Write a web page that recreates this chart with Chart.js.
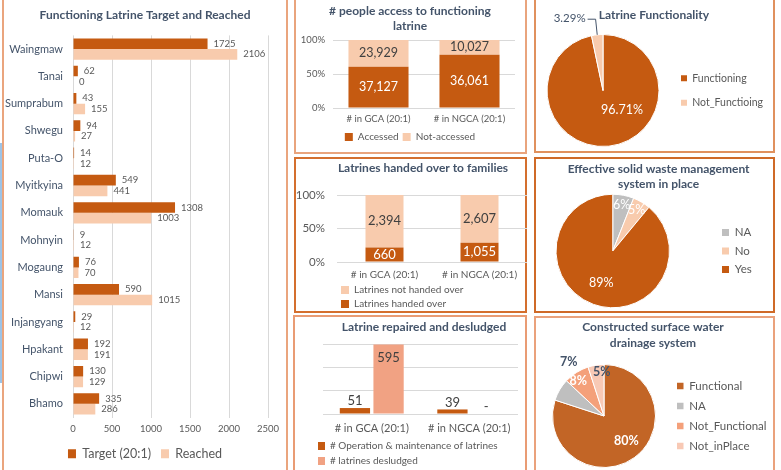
<!DOCTYPE html>
<html>
<head>
<meta charset="utf-8">
<title>Latrine dashboard</title>
<script src="https://cdn.jsdelivr.net/npm/chart.js@4.4.1/dist/chart.umd.min.js"></script>
<style>
html, body { margin:0; padding:0; background:#ffffff; overflow:hidden; }
#wrap { position:relative; width:781px; height:470px; overflow:hidden; background:#fff; }
.panel { position:absolute; box-sizing:border-box; border-style:solid; border-width:2px; }
#wrap canvas { position:absolute; }
</style>
</head>
<body>
<div id="wrap">
  <div class="panel" style="left:2px;top:-6px;width:286px;height:490px;border-color:#EAA57E"></div>
  <div style="position:absolute;left:0;top:143px;width:2px;height:240px;background:#9DC3E6"></div>
  <div class="panel" style="left:294px;top:-6px;width:233px;height:160px;border-color:#E9A47D"></div>
  <div class="panel" style="left:294px;top:157px;width:233px;height:156px;border-color:#D46F2E"></div>
  <div class="panel" style="left:293px;top:315px;width:234px;height:170px;border-color:#E99C74"></div>
  <div class="panel" style="left:534px;top:-6px;width:241px;height:159px;border-color:#E0915E"></div>
  <div class="panel" style="left:534px;top:157px;width:241px;height:156px;border-color:#CF6A28"></div>
  <div class="panel" style="left:534px;top:316px;width:241px;height:170px;border-color:#EAA27C"></div>
</div>
<script>
// ---------------- data ----------------
const districts = ['Waingmaw','Tanai','Sumprabum','Shwegu','Puta-O','Myitkyina','Momauk','Mohnyin','Mogaung','Mansi','Injangyang','Hpakant','Chipwi','Bhamo'];
const targetValues  = [1725, 62, 43, 94, 14, 549, 1308, 9, 76, 590, 29, 192, 130, 335];
const reachedValues = [2106, 0, 155, 27, 12, 441, 1003, 12, 70, 1015, 12, 191, 129, 286];
const reachedTicks = [0, 500, 1000, 1500, 2000, 2500];

const areaCategories = ['# in GCA (20:1)', '# in NGCA (20:1)'];
const peopleAccessed = [37127, 36061];
const peopleNotAccessed = [23929, 10027];
const percentTicks = [0, 50, 100];

const latrinesHanded = [660, 1055];
const latrinesNotHanded = [2394, 2607];

const latrinesMaintained = [51, 39];
const latrinesDesludged = [595, 0];
const repairTicks = [0, 200, 400, 600];

const functionalityLabels = ['Functioning', 'Not_Functioing'];
const functionalityValues = [96.71, 3.29];

const wasteLabels = ['NA', 'No', 'Yes'];
const wasteValues = [6, 5, 89];

const drainageLabels = ['Functional', 'NA', 'Not_Functional', 'Not_inPlace'];
const drainageValues = [80, 7, 8, 5];

// ---------------- style ----------------
const FONT = 'Lato';
const TITLE_COLOR = '#44546A';
const TEXT_COLOR = '#595959';
const DARK_LABEL = '#404040';
const ORANGE = '#C55A11';
const PEACH = '#F8CBAD';
const SALMON = '#F1A283';
const GREY = '#BFBFBF';
const GRID = '#D9D9D9';

Chart.defaults.font.family = FONT;
Chart.defaults.color = TEXT_COLOR;
Chart.defaults.animation = false;
Chart.defaults.responsive = false;
Chart.defaults.maintainAspectRatio = false;
Chart.defaults.plugins.tooltip.enabled = false;
Chart.defaults.events = [];

const measureCtx = document.createElement('canvas').getContext('2d');
function textW(t, size) { measureCtx.font = size + 'px ' + FONT; return measureCtx.measureText(t).width; }
function fmtNum(n) { return String(n).replace(/\B(?=(\d{3})+(?!\d))/g, ','); }

function makeCanvas(left, top, width, height) {
  const c = document.createElement('canvas');
  c.width = width; c.height = height;
  c.style.left = left + 'px'; c.style.top = top + 'px';
  c.style.width = width + 'px'; c.style.height = height + 'px';
  document.getElementById('wrap').appendChild(c);
  return c;
}
function titleOpts(lines, size, lineH, firstCenterRel, areaTopRel) {
  const padTop = firstCenterRel - lineH / 2;
  const padBottom = areaTopRel - padTop - lines.length * lineH;
  return { display: true, text: lines, color: TITLE_COLOR,
    font: { family: FONT, size: size, weight: 'bold', lineHeight: lineH + 'px' },
    padding: { top: padTop, bottom: padBottom } };
}
function padAxis(position, size) {
  return { type: 'linear', axis: (position === 'left' || position === 'right') ? 'y' : 'x', position: position,
    display: true, min: 0, max: 1, grid: { display: false, drawTicks: false }, border: { display: false },
    ticks: { display: false },
    afterFit: s => { if (s.isHorizontal()) { s.height = size; } else { s.width = size; } } };
}
function barLabels(fn) {
  return { id: 'barLabels', afterDatasetsDraw(chart) {
    const ctx = chart.ctx;
    chart.data.datasets.forEach((ds, di) => {
      chart.getDatasetMeta(di).data.forEach((bar, i) => {
        const s = fn(di, i, bar);
        if (!s) return;
        ctx.save();
        ctx.font = s.font; ctx.fillStyle = s.color;
        ctx.textAlign = s.align || 'center'; ctx.textBaseline = 'middle';
        ctx.fillText(s.text, s.x, s.y);
        ctx.restore();
      });
    });
  } };
}
function pieLabels(specs, fmt) {
  return { id: 'pieLabels', afterDatasetsDraw(chart) {
    const ctx = chart.ctx;
    const vals = chart.data.datasets[0].data;
    chart.getDatasetMeta(0).data.forEach((arc, i) => {
      const s = specs[i];
      const p = arc.getProps(['x', 'y', 'startAngle', 'endAngle', 'outerRadius'], true);
      const mid = (p.startAngle + p.endAngle) / 2;
      const a = s.angle !== undefined ? (s.angle - 90) * Math.PI / 180 : mid;
      const text = fmt(vals[i]);
      ctx.save();
      ctx.font = (s.weight || 'normal') + ' ' + s.size + 'px ' + FONT;
      ctx.fillStyle = s.color; ctx.textBaseline = 'middle'; ctx.textAlign = 'center';
      if (s.leader) {
        const ex = p.x + Math.cos(mid) * p.outerRadius, ey = p.y + Math.sin(mid) * p.outerRadius;
        const kx = p.x + Math.cos(mid) * p.outerRadius * s.r, ky = p.y + Math.sin(mid) * p.outerRadius * s.r;
        ctx.strokeStyle = s.color; ctx.lineWidth = 1;
        ctx.beginPath(); ctx.moveTo(ex, ey); ctx.lineTo(kx, ky); ctx.lineTo(kx - s.leader, ky); ctx.stroke();
        ctx.textAlign = 'right';
        ctx.fillText(text, kx - s.leader - 2, ky - 1);
      } else {
        const r = p.outerRadius * s.r;
        ctx.fillText(text, p.x + Math.cos(a) * r, p.y + Math.sin(a) * r);
      }
      ctx.restore();
    });
  } };
}
// horizontal placement of a pie + right legend + centred title inside one canvas
function pieLayout(labels, o) {
  const tw = Math.max.apply(null, labels.map(t => textW(t, o.size)));
  const legendW = o.pad + o.box + o.size / 2 + tw + 10;
  const legendLeft = o.markerX - o.pad;
  const regionRight = legendLeft + legendW;
  let regionLeft = 2 * o.titleX - regionRight;
  let axL = 0, axR = 0;
  const symLeft = 2 * o.cx - legendLeft;        // area left when the area touches the legend
  if (symLeft >= regionLeft) {
    axL = symLeft - regionLeft;
  } else {
    regionLeft = Math.min(regionLeft, o.cx - o.areaH / 2);
    axR = legendLeft - (2 * o.cx - regionLeft);
  }
  const canvasLeft = Math.floor(Math.min(regionLeft, o.panelLeft));
  const canvasRight = Math.ceil(Math.max(regionRight, o.panelRight));
  return { canvasLeft: canvasLeft, width: canvasRight - canvasLeft,
    padL: regionLeft - canvasLeft, padR: canvasRight - regionRight, axL: axL, axR: axR };
}
function pieLegendLabels(chart) {
  return Chart.overrides.pie.plugins.legend.labels.generateLabels(chart).map(l => Object.assign({}, l, { lineWidth: 0 }));
}

// ---------------- chart 1: functioning latrine target and reached ----------------
new Chart(makeCanvas(2, 0, 286, 470), {
  type: 'bar',
  data: { labels: districts, datasets: [
    { label: 'Target (20:1)', data: targetValues, backgroundColor: ORANGE, xAxisID: 'x', yAxisID: 'y' },
    { label: 'Reached', data: reachedValues, backgroundColor: PEACH, xAxisID: 'x', yAxisID: 'y' }
  ] },
  options: {
    indexAxis: 'y',
    datasets: { bar: { categoryPercentage: 0.78, barPercentage: 1 } },
    scales: {
      y: { type: 'category', position: 'left', grid: { display: false, drawTicks: false }, border: { display: false },
        ticks: { color: TITLE_COLOR, font: { size: 11 }, padding: 10, autoSkip: false },
        afterFit: s => { s.width = 71; } },
      x: { type: 'linear', position: 'bottom', min: 0, max: 2500,
        grid: { color: GRID, drawTicks: false }, border: { display: false },
        ticks: { font: { size: 9.5 }, padding: 6, callback: v => String(v) },
        afterBuildTicks: s => { s.ticks = reachedTicks.map(v => ({ value: v })); },
        afterFit: s => { s.height = 20; } },
      padR: padAxis('right', 20)
    },
    plugins: {
      title: titleOpts(['Functioning Latrine Target and Reached'], 12, 15, 15, 35.4),
      legend: { position: 'bottom', labels: { boxWidth: 8, boxHeight: 9, padding: 10, font: { size: 12.5 }, color: TEXT_COLOR } }
    }
  },
  plugins: [barLabels((di, i, bar) => ({
    text: String(di === 0 ? targetValues[i] : reachedValues[i]),
    x: bar.x + 6, y: bar.y, align: 'left', font: '9.5px ' + FONT, color: TEXT_COLOR
  }))]
});

// ---------------- chart 2: people access ----------------
new Chart(makeCanvas(296, 2, 228, 150), {
  type: 'bar',
  data: { labels: areaCategories, datasets: [
    { label: 'Accessed', data: peopleAccessed.map((v, i) => 100 * v / (v + peopleNotAccessed[i])), backgroundColor: ORANGE, yAxisID: 'y', xAxisID: 'x' },
    { label: 'Not-accessed', data: peopleNotAccessed.map((v, i) => 100 * v / (v + peopleAccessed[i])), backgroundColor: PEACH, yAxisID: 'y', xAxisID: 'x' }
  ] },
  options: {
    datasets: { bar: { categoryPercentage: 0.66, barPercentage: 1 } },
    scales: {
      y: { type: 'linear', position: 'left', stacked: true, min: 0, max: 100,
        grid: { color: GRID, drawTicks: false }, border: { display: false },
        ticks: { font: { size: 9.5 }, padding: 8, callback: v => v + '%' },
        afterBuildTicks: s => { s.ticks = percentTicks.map(v => ({ value: v })); },
        afterFit: s => { s.width = 37; } },
      x: { type: 'category', stacked: true, grid: { display: false, drawTicks: false }, border: { display: false },
        ticks: { font: { size: 9.5 }, padding: 5 }, afterFit: s => { s.height = 20; } },
      padR: padAxis('right', 9)
    },
    plugins: {
      title: titleOpts(['# people access to functioning', 'latrine'], 12, 15, 9, 38),
      legend: { position: 'bottom', labels: { boxWidth: 8, boxHeight: 8, padding: 4, font: { size: 10 }, color: TEXT_COLOR } }
    }
  },
  plugins: [barLabels((di, i, bar) => ({
    text: fmtNum(di === 0 ? peopleAccessed[i] : peopleNotAccessed[i]),
    x: bar.x, y: (bar.y + bar.base) / 2, font: '12.5px ' + FONT, color: di === 0 ? '#FFFFFF' : DARK_LABEL
  }))]
});

// ---------------- chart 3: latrines handed over ----------------
new Chart(makeCanvas(296, 159, 254, 160), {
  type: 'bar',
  data: { labels: areaCategories, datasets: [
    { label: 'Latrines handed over', data: latrinesHanded.map((v, i) => 100 * v / (v + latrinesNotHanded[i])), backgroundColor: ORANGE, yAxisID: 'y', xAxisID: 'x' },
    { label: 'Latrines not handed over', data: latrinesNotHanded.map((v, i) => 100 * v / (v + latrinesHanded[i])), backgroundColor: PEACH, yAxisID: 'y', xAxisID: 'x' }
  ] },
  options: {
    datasets: { bar: { categoryPercentage: 0.4, barPercentage: 1 } },
    scales: {
      y: { type: 'linear', position: 'left', stacked: true, min: 0, max: 100,
        grid: { color: GRID, drawTicks: false }, border: { display: false },
        ticks: { font: { size: 11.5 }, padding: 12, callback: v => v + '%' },
        afterBuildTicks: s => { s.ticks = percentTicks.map(v => ({ value: v })); },
        afterFit: s => { s.width = 41; } },
      x: { type: 'category', stacked: true, grid: { display: false, drawTicks: false }, border: { display: false },
        ticks: { font: { size: 10 }, padding: 7 }, afterFit: s => { s.height = 19; } },
      padR: padAxis('right', 23)
    },
    plugins: {
      title: titleOpts(['Latrines handed over to families'], 12, 15, 9, 36),
      legend: { position: 'bottom', fullSize: false, align: 'start', reverse: true,
        labels: { boxWidth: 8, boxHeight: 8, padding: 4, font: { size: 10 }, color: TEXT_COLOR } }
    }
  },
  plugins: [barLabels((di, i, bar) => ({
    text: fmtNum(di === 0 ? latrinesHanded[i] : latrinesNotHanded[i]),
    x: bar.x, y: (bar.y + bar.base) / 2, font: '13px ' + FONT, color: di === 0 ? '#FFFFFF' : DARK_LABEL
  }))]
});

// ---------------- chart 4: repaired and desludged ----------------
new Chart(makeCanvas(296, 317, 239, 159), {
  type: 'bar',
  data: { labels: areaCategories, datasets: [
    { label: '# Operation & maintenance of latrines', data: latrinesMaintained, backgroundColor: ORANGE, yAxisID: 'y', xAxisID: 'x' },
    { label: '# latrines desludged', data: latrinesDesludged, backgroundColor: SALMON, yAxisID: 'y', xAxisID: 'x' }
  ] },
  options: {
    layout: { padding: { left: 17 } },
    datasets: { bar: { categoryPercentage: 0.69, barPercentage: 0.9 } },
    scales: {
      y: { type: 'linear', position: 'left', min: 0, max: 600,
        grid: { color: GRID, drawTicks: false }, border: { display: false },
        ticks: { font: { size: 9 }, padding: 11, callback: v => v === 0 ? '-' : String(v) },
        afterBuildTicks: s => { s.ticks = repairTicks.map(v => ({ value: v })); },
        afterFit: s => { s.width = 10; } },
      x: { type: 'category', grid: { display: false, drawTicks: false }, border: { display: false },
        ticks: { font: { size: 11 }, padding: 8 }, afterFit: s => { s.height = 22; } },
      padR: padAxis('right', 17)
    },
    plugins: {
      title: titleOpts(['Latrine repaired and desludged'], 12, 15, 10, 27),
      legend: { position: 'bottom', align: 'start',
        labels: { boxWidth: 7, boxHeight: 8, padding: 5, font: { size: 10 }, color: TEXT_COLOR } }
    }
  },
  plugins: [barLabels((di, i, bar) => {
    const v = di === 0 ? latrinesMaintained[i] : latrinesDesludged[i];
    const inside = v > 300;
    return { text: v === 0 ? '-' : String(v), x: bar.x, y: inside ? bar.y + 13 : bar.y - 7,
      font: '13px ' + FONT, color: DARK_LABEL };
  })]
});

// ---------------- chart 5: latrine functionality ----------------
(function () {
  const L = pieLayout(functionalityLabels, { cx: 603, titleX: 654, markerX: 681, pad: 14, box: 6, size: 10.5, areaH: 113, panelLeft: 536, panelRight: 773 });
  new Chart(makeCanvas(L.canvasLeft, 2, L.width, 149), {
    type: 'pie',
    data: { labels: functionalityLabels, datasets: [{ data: functionalityValues, backgroundColor: [ORANGE, PEACH], borderColor: '#FFFFFF', borderWidth: 1 }] },
    options: {
      layout: { padding: { left: L.padL, right: L.padR, top: 0, bottom: 4 } },
      scales: { padL: padAxis('left', L.axL), padR: padAxis('right', L.axR) },
      plugins: {
        title: titleOpts(['Latrine Functionality'], 12, 15, 13, 32),
        legend: { position: 'right', fullSize: false, maxWidth: 400,
          labels: { boxWidth: 6, boxHeight: 6, padding: 14, font: { size: 10.5 }, color: TEXT_COLOR, generateLabels: pieLegendLabels } }
      }
    },
    plugins: [pieLabels([
      { angle: 136, r: 0.49, size: 12.5, color: '#FFFFFF' },
      { leader: 8, r: 1.28, size: 11.5, color: TITLE_COLOR }
    ], v => v.toFixed(2) + '%')]
  });
})();

// ---------------- chart 6: solid waste management ----------------
(function () {
  const L = pieLayout(wasteLabels, { cx: 613, titleX: 666, markerX: 722, pad: 6.5, box: 7, size: 11.5, areaH: 115, panelLeft: 536, panelRight: 773 });
  new Chart(makeCanvas(L.canvasLeft, 159, L.width, 152), {
    type: 'pie',
    data: { labels: wasteLabels, datasets: [{ data: wasteValues, backgroundColor: [GREY, PEACH, ORANGE], borderColor: '#FFFFFF', borderWidth: 1 }] },
    options: {
      layout: { padding: { left: L.padL, right: L.padR, top: 0, bottom: 2.5 } },
      scales: { padL: padAxis('left', L.axL), padR: padAxis('right', L.axR) },
      plugins: {
        title: titleOpts(['Effective solid waste management', 'system in place'], 12, 15, 10, 34.5),
        legend: { position: 'right', fullSize: false, maxWidth: 400,
          labels: { boxWidth: 7, boxHeight: 7, padding: 7, font: { size: 11.5 }, color: TEXT_COLOR, generateLabels: pieLegendLabels } }
      }
    },
    plugins: [pieLabels([
      { r: 0.83, size: 12.5, color: '#FFFFFF' },
      { r: 0.83, size: 12.5, color: '#FFFFFF' },
      { r: 0.6, size: 12.5, color: '#FFFFFF' }
    ], v => v + '%')]
  });
})();

// ---------------- chart 7: surface water drainage ----------------
(function () {
  const L = pieLayout(drainageLabels, { cx: 604, titleX: 653, markerX: 677, pad: 8.5, box: 6.5, size: 11.5, areaH: 104, panelLeft: 536, panelRight: 773 });
  new Chart(makeCanvas(L.canvasLeft, 317, L.width, 153), {
    type: 'pie',
    data: { labels: drainageLabels, datasets: [{ data: drainageValues, backgroundColor: ['#C26526', GREY, '#F4A07A', '#F8C9B5'], borderColor: '#FFFFFF', borderWidth: 1 }] },
    options: {
      layout: { padding: { left: L.padL, right: L.padR, top: 0, bottom: 2 } },
      scales: { padL: padAxis('left', L.axL), padR: padAxis('right', L.axR) },
      plugins: {
        title: titleOpts(['Constructed surface water', 'drainage system'], 12, 16, 10, 47),
        legend: { position: 'right', fullSize: false, maxWidth: 400,
          labels: { boxWidth: 6.5, boxHeight: 6.5, padding: 8.5, font: { size: 11.5 }, color: TEXT_COLOR, generateLabels: pieLegendLabels } }
      }
    },
    plugins: [pieLabels([
      { angle: 138, r: 0.65, size: 12.5, weight: 'bold', color: '#FFFFFF' },
      { angle: 327, r: 1.26, size: 12.5, weight: 'bold', color: TITLE_COLOR },
      { angle: 324, r: 0.85, size: 12.5, weight: 'bold', color: '#FFFFFF' },
      { angle: 357, r: 0.85, size: 12.5, weight: 'bold', color: TITLE_COLOR }
    ], v => v + '%')]
  });
})();
</script>
</body>
</html>
